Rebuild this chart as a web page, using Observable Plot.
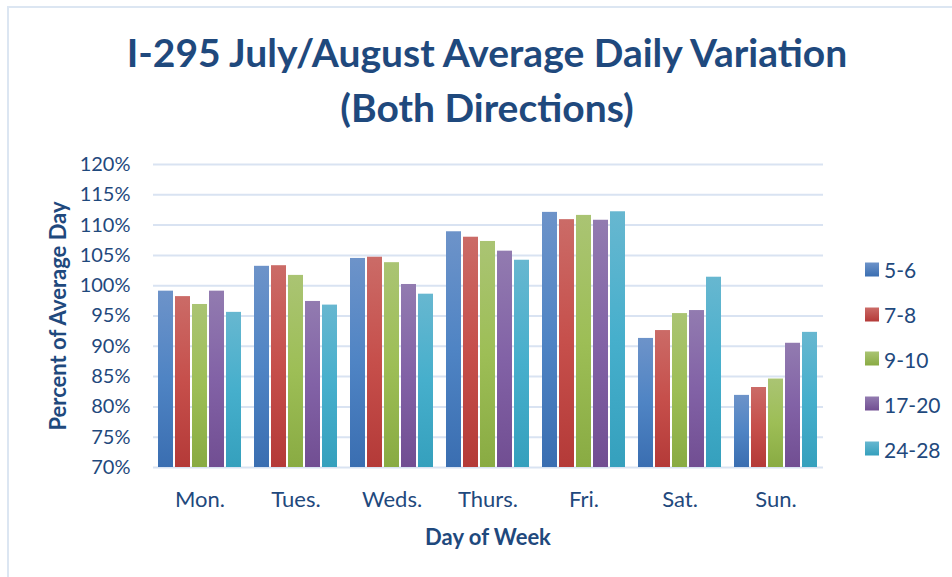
<!DOCTYPE html>
<html>
<head>
<meta charset="utf-8">
<script src="https://cdn.jsdelivr.net/npm/d3@7"></script>
<script src="https://cdn.jsdelivr.net/npm/@observablehq/plot@0.6"></script>
<style>
  html, body { margin: 0; padding: 0; background: #fff; }
  #wrap { position: relative; width: 952px; height: 577px; overflow: hidden; font-family: Lato, sans-serif; color: #1f497d; }
  #border { position: absolute; left: 7px; top: 6px; width: 1000px; height: 1000px; border: 2px solid #dce6f2; box-sizing: border-box; }
  #title { position: absolute; left: 0; width: 974px; top: 25px; text-align: center; font-weight: bold; font-size: 39px; line-height: 55px; }
  .layer { position: absolute; left: 0; top: 140px; }
  #ylabel { position: absolute; left: 57px; top: 316px; transform: translate(-50%, -50%) rotate(-90deg); font-weight: bold; font-size: 22px; white-space: nowrap; }
  #xlabel { position: absolute; left: 488px; top: 536px; transform: translate(-50%, -50%); font-weight: bold; font-size: 22px; white-space: nowrap; }
  #legend { position: absolute; left: 865px; top: 0; }
  .li { position: absolute; left: 0; display: flex; align-items: center; font-size: 21px; white-space: nowrap; transform: translateY(-50%); }
  .sw { width: 14px; height: 14px; margin-right: 5px; }
</style>
</head>
<body>
<div id="wrap">
  <div id="border"></div>
  <div id="title">I-295 July/August Average Daily Variation<br>(Both Directions)</div>
  <div id="bg" class="layer"></div>
  <div id="fg" class="layer"></div>
  <div id="ylabel">Percent of Average Day</div>
  <div id="xlabel">Day of Week</div>
  <div id="legend"></div>
</div>
<script>
// ---- data ----
const days = ["Mon.", "Tues.", "Weds.", "Thurs.", "Fri.", "Sat.", "Sun."];
const series = ["5-6", "7-8", "9-10", "17-20", "24-28"];
const s5_6   = [99.1, 103.2, 104.5, 108.9, 112.1, 91.3, 81.9];
const s7_8   = [98.2, 103.3, 104.7, 108.0, 110.9, 92.6, 83.2];
const s9_10  = [96.9, 101.7, 103.8, 107.3, 111.6, 95.4, 84.6];
const s17_20 = [99.1, 97.4, 100.2, 105.7, 110.8, 95.9, 90.5];
const s24_28 = [95.6, 96.8, 98.6, 104.2, 112.2, 101.4, 92.3];
const yTicks = [70, 75, 80, 85, 90, 95, 100, 105, 110, 115, 120];

const seriesValues = [s5_6, s7_8, s9_10, s17_20, s24_28];
const rows = [];
series.forEach((s, i) => days.forEach((d, j) => rows.push({day: d, series: s, value: seriesValues[i][j]})));

// gradient colors (top, middle, bottom)
const grads = [
  ["#6d93c9", "#4f84c4", "#3a6eb1"],
  ["#cb6b67", "#c64f4b", "#b43a38"],
  ["#aac473", "#9dbe56", "#89ab43"],
  ["#927bb0", "#8262a6", "#714e92"],
  ["#67b7d0", "#46afcc", "#35a0bd"]
];
const gradIds = series.map((s, i) => `grad${i}`);

const W = 952, H = 437, mL = 153, mR = 129, mT = 24, mB = 110;
const textColor = "#1f497d";

// background layer: grid + y axis
const bg = Plot.plot({
  width: W, height: H,
  marginLeft: mL, marginRight: mR, marginTop: mT, marginBottom: mB,
  style: {fontFamily: "Lato, sans-serif", background: "transparent"},
  y: {domain: [70, 120], ticks: yTicks},
  marks: [
    Plot.gridY(yTicks, {stroke: "#d9e3f2", strokeOpacity: 1, strokeWidth: 2}),
    Plot.axisY(yTicks, {tickSize: 0, tickPadding: 23, tickFormat: d => d + "%", fontSize: 20, fill: textColor, label: null})
  ]
});
document.getElementById("bg").appendChild(bg);

// foreground layer: bars faceted by day
const fg = Plot.plot({
  width: W, height: H,
  marginLeft: mL, marginRight: mR, marginTop: mT, marginBottom: mB,
  style: {fontFamily: "Lato, sans-serif", background: "transparent"},
  fx: {domain: days, paddingInner: 0.135, paddingOuter: 0.057, label: null},
  x: {domain: series, paddingInner: 0.12, paddingOuter: 0, axis: null},
  y: {domain: [70, 120], axis: null},
  color: {type: "ordinal", domain: series, range: gradIds.map(id => `url(#${id})`)},
  marks: [
    Plot.barY(rows, {fx: "day", x: "series", y1: 70, y2: "value", fill: "series"}),
    Plot.axisFx({anchor: "bottom", tickSize: 0, tickPadding: 24, fontSize: 22, fill: textColor, label: null})
  ]
});
const defs = d3.select(fg).insert("defs", ":first-child");
grads.forEach((g, i) => {
  const lg = defs.append("linearGradient").attr("id", gradIds[i]).attr("x1", 0).attr("y1", 0).attr("x2", 0).attr("y2", 1);
  lg.append("stop").attr("offset", "0%").attr("stop-color", g[0]);
  lg.append("stop").attr("offset", "50%").attr("stop-color", g[1]);
  lg.append("stop").attr("offset", "100%").attr("stop-color", g[2]);
});
document.getElementById("fg").appendChild(fg);

// legend
const legend = document.getElementById("legend");
const legendY = [269, 314, 358.5, 403.5, 448.5];
series.forEach((s, i) => {
  const item = document.createElement("div");
  item.className = "li";
  item.style.top = legendY[i] + "px";
  const sw = document.createElement("div");
  sw.className = "sw";
  sw.style.background = `linear-gradient(${grads[i][0]}, ${grads[i][2]})`;
  const t = document.createElement("span");
  t.textContent = s;
  item.appendChild(sw); item.appendChild(t);
  legend.appendChild(item);
});
</script>
</body>
</html>
